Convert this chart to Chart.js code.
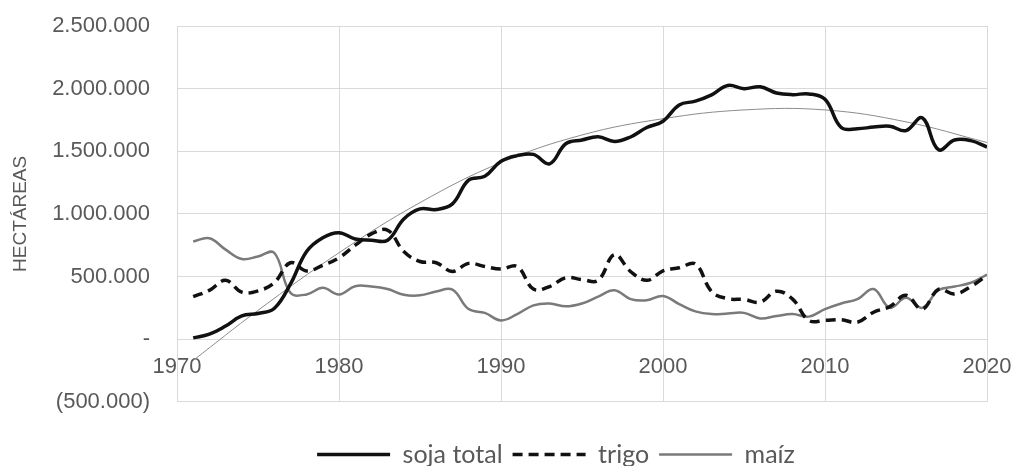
<!DOCTYPE html>
<html>
<head>
<meta charset="utf-8">
<script src="https://cdn.jsdelivr.net/npm/chart.js@4.4.0/dist/chart.umd.min.js"></script>
<style>
html, body { margin: 0; padding: 0; background: #fff; }
#wrap { width: 1013px; height: 466px; }
</style>
</head>
<body>
<div id="wrap"><canvas id="chart"></canvas></div>
<script>
var years = [1971, 1972, 1973, 1974, 1975, 1976, 1977, 1978, 1979, 1980,
             1981, 1982, 1983, 1984, 1985, 1986, 1987, 1988, 1989, 1990,
             1991, 1992, 1993, 1994, 1995, 1996, 1997, 1998, 1999, 2000,
             2001, 2002, 2003, 2004, 2005, 2006, 2007, 2008, 2009, 2010,
             2011, 2012, 2013, 2014, 2015, 2016, 2017, 2018, 2019, 2020];

var soja = [10000, 40000, 105000, 185000, 205000, 245000, 440000, 700000, 810000, 850000,
            800000, 790000, 790000, 960000, 1040000, 1035000, 1080000, 1270000, 1300000, 1420000,
            1465000, 1475000, 1400000, 1560000, 1590000, 1615000, 1578000, 1614000, 1690000, 1740000,
            1870000, 1900000, 1950000, 2025000, 2000000, 2015000, 1965000, 1952000, 1958000, 1915000,
            1690000, 1680000, 1693000, 1700000, 1665000, 1767000, 1513000, 1590000, 1585000, 1534000];

var trigo = [340000, 390000, 470000, 375000, 385000, 450000, 610000, 545000, 590000, 650000,
             750000, 840000, 870000, 700000, 620000, 610000, 540000, 605000, 580000, 560000,
             580000, 400000, 420000, 490000, 476000, 470000, 675000, 540000, 470000, 545000,
             570000, 600000, 380000, 323000, 317000, 296000, 383000, 320000, 150000, 150000,
             155000, 135000, 215000, 260000, 350000, 240000, 397000, 360000, 420000, 510000];

var maiz = [780000, 805000, 715000, 640000, 660000, 690000, 370000, 357000, 410000, 357000,
            423000, 420000, 400000, 355000, 350000, 380000, 395000, 240000, 210000, 150000,
            200000, 270000, 285000, 262000, 285000, 340000, 390000, 320000, 310000, 345000,
            280000, 222000, 200000, 205000, 210000, 165000, 185000, 200000, 180000, 240000,
            285000, 320000, 400000, 250000, 330000, 250000, 390000, 420000, 450000, 516000];

// tendencia (soja)
var trendYears = [1971, 1975, 1980, 1985, 1990, 1995, 2000, 2005, 2010, 2015, 2020];
var trend = [-170000, 230000, 690000, 1090000, 1410000, 1630000, 1760000, 1830000, 1830000, 1735000, 1570000];

var seriesNames = ['soja total', 'trigo', 'maíz'];
var yTitle = 'HECTÁREAS';

function pts(xs, ys) {
    return xs.map(function (x, i) { return { x: x, y: ys[i] }; });
}

function miles(v) {
    if (v === 0) return '-';
    var s = String(Math.abs(v)).replace(/\B(?=(\d{3})+(?!\d))/g, '.');
    return v < 0 ? '(' + s + ')' : s;
}

var tickFont = { family: 'Liberation Sans', size: 22 };

// mueve la leyenda un poco a la derecha, como en el original
var legendShift = {
    id: 'legendShift',
    afterLayout: function (chart) {
        chart.legend.left += 58;
        chart.legend.right += 58;
    }
};

var c = document.getElementById('chart');
var ctx = c.getContext('2d');
var myChart = new Chart(ctx, {
    type: 'line',
    data: {
        datasets: [{
            label: seriesNames[0],
            data: pts(years, soja),
            borderColor: '#111111',
            backgroundColor: '#111111',
            borderWidth: 3.5,
            tension: 0.4,
            pointRadius: 0
        }, {
            label: seriesNames[1],
            data: pts(years, trigo),
            borderColor: '#111111',
            backgroundColor: '#111111',
            borderWidth: 3.5,
            borderDash: [10, 6],
            tension: 0.4,
            pointRadius: 0
        }, {
            label: seriesNames[2],
            data: pts(years, maiz),
            borderColor: '#7a7a7a',
            backgroundColor: '#7a7a7a',
            borderWidth: 2.5,
            tension: 0.4,
            pointRadius: 0
        }, {
            label: 'tendencia',
            data: pts(trendYears, trend),
            borderColor: '#8c8c8c',
            backgroundColor: '#8c8c8c',
            borderWidth: 1,
            tension: 0.4,
            pointRadius: 0
        }]
    },
    options: {
        responsive: true,
        maintainAspectRatio: false,
        animation: false,
        layout: {
            padding: { top: 26, right: 26, bottom: -11, left: 9 }
        },
        scales: {
            x: {
                type: 'linear',
                min: 1970,
                max: 2020,
                position: { y: 0 },
                ticks: {
                    stepSize: 10,
                    color: '#595959',
                    font: tickFont,
                    padding: 0,
                    maxRotation: 0,
                    callback: function (v) { return String(v); }
                },
                grid: { color: '#d9d9d9', drawTicks: true, tickLength: 15, tickColor: 'rgba(0,0,0,0)' },
                border: { display: false }
            },
            y: {
                min: -500000,
                max: 2500000,
                ticks: {
                    stepSize: 500000,
                    color: '#595959',
                    font: tickFont,
                    padding: 0,
                    callback: miles
                },
                grid: { color: '#d9d9d9', drawTicks: true, tickLength: 27, tickColor: 'rgba(0,0,0,0)' },
                border: { display: false },
                title: {
                    display: true,
                    text: yTitle,
                    color: '#595959',
                    font: { family: 'Liberation Sans', size: 19 },
                    padding: 0
                },
                afterFit: function (scale) { scale.width = 177 - 9; }
            }
        },
        plugins: {
            legend: {
                position: 'bottom',
                title: { display: true, text: '', padding: { top: 0, bottom: 29 }, font: { size: 1 } },
                labels: {
                    usePointStyle: true,
                    pointStyleWidth: 73,
                    color: '#595959',
                    font: { family: 'Lato', size: 25 },
                    padding: 10,
                    generateLabels: function (chart) {
                        var items = Chart.defaults.plugins.legend.labels.generateLabels(chart);
                        return items.filter(function (it) { return it.datasetIndex < 3; }).map(function (it) {
                            var ds = chart.data.datasets[it.datasetIndex];
                            it.lineDash = ds.borderDash || [];
                            it.lineWidth = ds.borderWidth;
                            it.strokeStyle = ds.borderColor;
                            it.pointStyle = 'line';
                            return it;
                        });
                    }
                }
            },
            tooltip: { enabled: false }
        }
    },
    plugins: [legendShift]
});
</script>
</body>
</html>
